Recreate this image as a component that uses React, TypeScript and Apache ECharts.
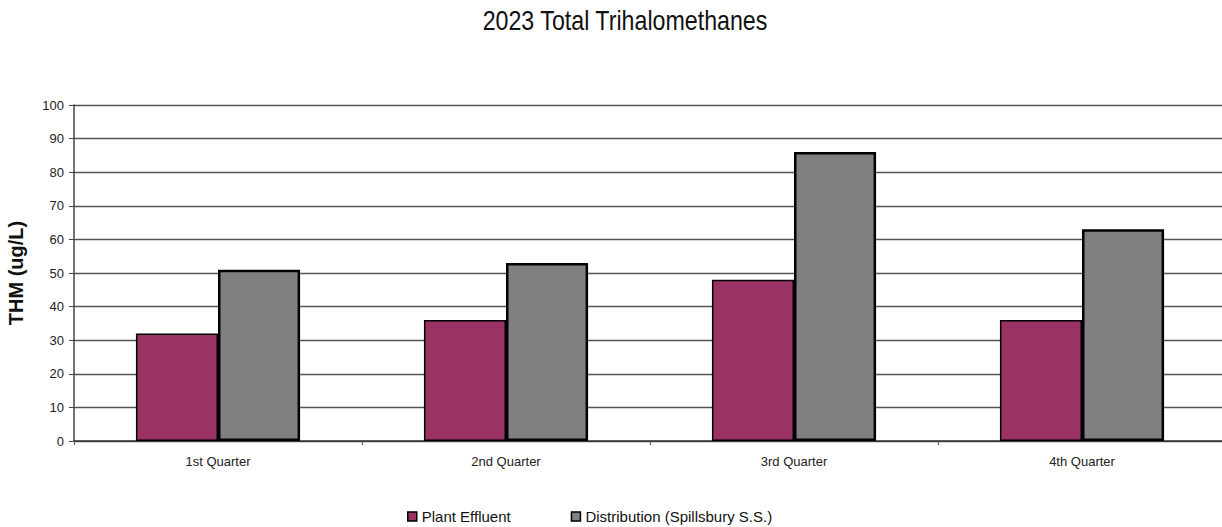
import React, { useEffect, useRef } from "react";
import * as echarts from "echarts";

const categories = ["1st Quarter", "2nd Quarter", "3rd Quarter", "4th Quarter"];
const plantEffluent = [32, 36, 48, 36];
const distribution = [51, 53, 86, 63];
const seriesNames = ["Plant Effluent", "Distribution (Spillsbury S.S.)"];
const chartTitle = "2023 Total Trihalomethanes";
const yAxisName = "THM (ug/L)";

const FONT = "'Liberation Sans', Arial, sans-serif";

export default function App() {
  const ref = useRef<HTMLDivElement>(null);

  useEffect(() => {
    document.body.style.margin = "0";
    const chart = echarts.init(ref.current!, undefined, { renderer: "svg" });
    chart.setOption({
      animation: false,
      backgroundColor: "#ffffff",
      // condensed title, drawn as a horizontally squeezed text element
      graphic: [
        {
          type: "text",
          x: 625,
          y: 20,
          scaleX: 0.86,
          style: {
            text: chartTitle,
            font: `normal 27px ${FONT}`,
            fill: "#111",
            textAlign: "center",
            textVerticalAlign: "middle",
          },
        },
      ],
      legend: {
        bottom: 3,
        left: 407,
        padding: 0,
        icon: "rect",
        itemWidth: 9,
        itemHeight: 9,
        itemGap: 60,
        itemStyle: { borderColor: "#000", borderWidth: 1.5 },
        textStyle: { fontFamily: FONT, fontSize: 15, color: "#111" },
        data: seriesNames,
      },
      grid: { left: 74, top: 105, width: 1152, bottom: 86, outerBoundsMode: "none", containLabel: false },
      xAxis: {
        type: "category",
        data: categories,
        axisLine: { lineStyle: { color: "#333", width: 1.5 } },
        axisTick: { show: true, length: 4, lineStyle: { color: "#555" } },
        axisLabel: { fontFamily: FONT, fontSize: 13, color: "#222", margin: 14 },
      },
      yAxis: {
        type: "value",
        min: 0,
        max: 100,
        interval: 10,
        name: yAxisName,
        nameLocation: "middle",
        nameRotate: 90,
        nameGap: 48,
        nameTextStyle: { fontFamily: FONT, fontSize: 20, fontWeight: "bold", color: "#111" },
        axisLine: { show: true, lineStyle: { color: "#444", width: 1.5 } },
        axisTick: { show: true, length: 5, lineStyle: { color: "#444" } },
        axisLabel: { fontFamily: FONT, fontSize: 13, color: "#222", margin: 10 },
        splitLine: { lineStyle: { color: "#555", width: 1.3 } },
      },
      series: [
        {
          name: seriesNames[0],
          type: "bar",
          data: plantEffluent,
          barGap: "0%",
          barCategoryGap: "43%",
          itemStyle: { color: "#993366", borderColor: "#000", borderWidth: 1.5 },
        },
        {
          name: seriesNames[1],
          type: "bar",
          data: distribution,
          barGap: "0%",
          barCategoryGap: "43%",
          itemStyle: { color: "#808080", borderColor: "#000", borderWidth: 2.5 },
        },
      ],
    });
    return () => chart.dispose();
  }, []);

  return (
    <div
      ref={ref}
      style={{ position: "fixed", left: 0, top: 0, width: 1222, height: 527 }}
    />
  );
}
